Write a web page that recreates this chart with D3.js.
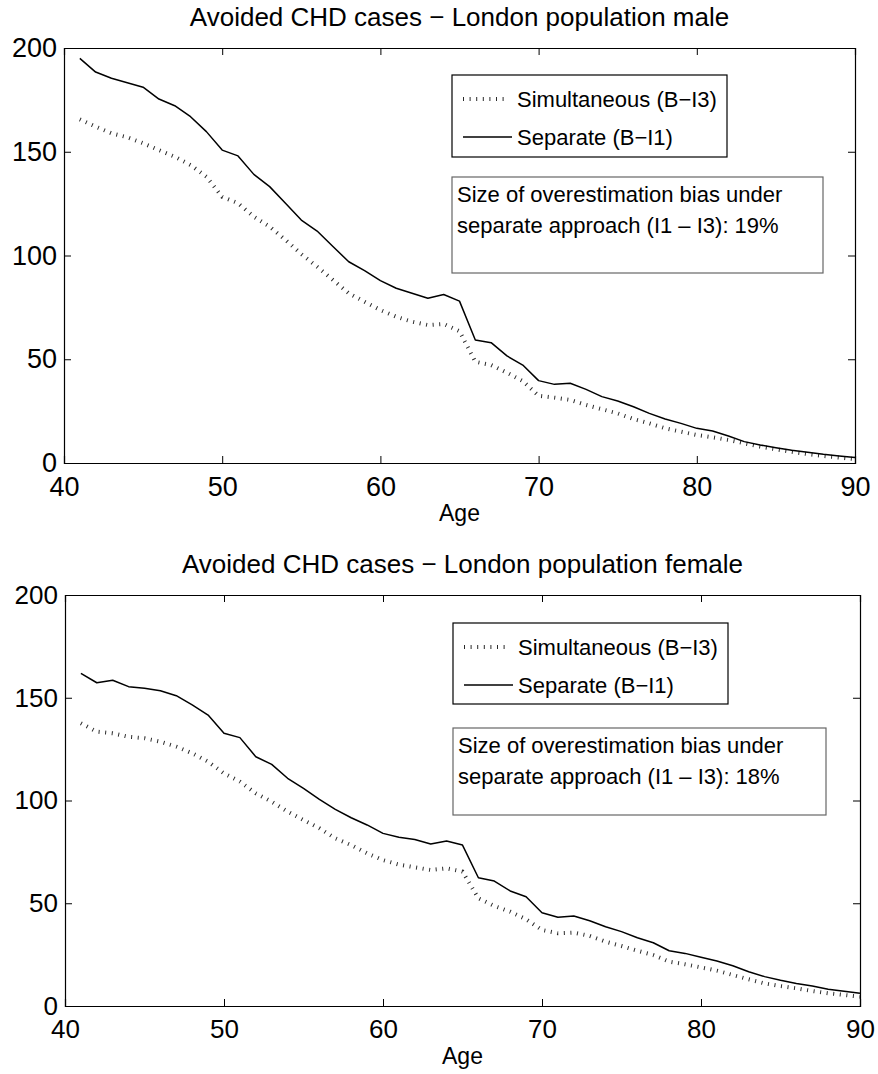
<!DOCTYPE html>
<html>
<head>
<meta charset="utf-8">
<script src="https://cdn.jsdelivr.net/npm/d3@7"></script>
<style>
  html, body { margin: 0; padding: 0; background: #fff; }
  svg { display: block; font-family: "Liberation Sans", Arial, Helvetica, sans-serif; }
</style>
</head>
<body>
<div id="chart"></div>
<script>
const ages = d3.range(41, 91);

const maleSeparate = [
  195.0, 188.4, 185.4, 183.3, 181.1, 175.4, 172.2, 166.9, 159.7, 150.8,
  148.0, 139.1, 133.2, 125.2, 117.1, 111.8, 104.3, 97.0, 92.7, 87.9,
  84.2, 81.8, 79.4, 81.2, 78.0, 59.3, 58.0, 51.6, 47.2, 39.7,
  37.9, 38.4, 35.5, 32.0, 29.9, 27.1, 23.9, 21.2, 19.1, 16.7,
  15.4, 13.0, 10.3, 8.7, 7.4, 6.1, 5.2, 4.2, 3.4, 2.7
];
const maleSimultaneous = [
  165.6, 162.1, 158.9, 157.0, 154.1, 150.8, 147.6, 143.6, 138.0, 128.3,
  125.2, 118.7, 113.9, 107.5, 100.7, 94.6, 88.2, 81.8, 77.7, 73.7,
  70.5, 68.1, 66.5, 67.0, 63.5, 48.8, 47.2, 43.5, 39.5, 32.4,
  31.5, 30.4, 28.0, 25.9, 23.9, 21.2, 19.1, 16.7, 15.1, 13.5,
  12.4, 11.1, 9.5, 7.9, 6.6, 5.4, 4.3, 3.4, 2.6, 1.9
];
const femaleSeparate = [
  161.9, 157.3, 158.5, 155.4, 154.6, 153.4, 151.0, 146.5, 141.6, 132.7,
  130.6, 121.3, 117.6, 110.8, 105.9, 100.6, 95.7, 91.6, 88.1, 84.0,
  82.1, 81.0, 78.8, 80.3, 78.3, 62.4, 60.8, 56.0, 53.2, 45.4,
  43.2, 43.8, 41.5, 38.6, 36.2, 33.2, 30.8, 26.9, 25.6, 23.7,
  21.9, 19.6, 16.7, 14.3, 12.5, 11.0, 9.7, 8.1, 7.2, 6.2
];
const femaleSimultaneous = [
  137.6, 133.5, 132.7, 131.0, 130.3, 128.6, 126.2, 123.0, 118.9, 113.2,
  109.2, 103.5, 99.4, 94.6, 90.5, 86.5, 81.6, 78.3, 74.3, 71.0,
  68.8, 67.5, 66.2, 67.0, 65.4, 52.4, 48.7, 45.9, 42.2, 37.0,
  35.4, 35.7, 34.1, 31.3, 29.2, 26.9, 24.8, 21.6, 20.3, 18.8,
  17.2, 15.1, 13.0, 11.0, 9.7, 8.6, 7.3, 6.2, 5.4, 4.5
];

const xTicks = [40, 50, 60, 70, 80, 90];
const yTicks = [0, 50, 100, 150, 200];
const legendLabels = ['Simultaneous (B\u2212I3)', 'Separate (B\u2212I1)'];

const panels = [
  {
    title: 'Avoided CHD cases \u2212 London population male',
    separate: maleSeparate, simultaneous: maleSimultaneous,
    note: ['Size of overestimation bias under', 'separate approach (I1 \u2013 I3): 19%'],
    box: { x0: 64, x1: 855, y0: 48, y1: 463 },
    legend: { x: 452, y: 75, w: 275, h: 82 },
    noteBox: { x: 452, y: 177, w: 371, h: 96 },
    tickSize: 27
  },
  {
    title: 'Avoided CHD cases \u2212 London population female',
    separate: femaleSeparate, simultaneous: femaleSimultaneous,
    note: ['Size of overestimation bias under', 'separate approach (I1 \u2013 I3): 18%'],
    box: { x0: 65, x1: 860, y0: 595, y1: 1006 },
    legend: { x: 453, y: 623, w: 275, h: 81 },
    noteBox: { x: 453, y: 728, w: 373, h: 87 },
    tickSize: 26
  }
];

const W = 878, H = 1074;
const DOTS = { width: 4, dash: '1 5.6', color: '#2a2a2a' };

const svg = d3.select('#chart').append('svg')
  .attr('width', W)
  .attr('height', H);

panels.forEach(drawPanel);

function drawPanel(p) {
  const { x0, x1, y0, y1 } = p.box;
  const x = d3.scaleLinear().domain([40, 90]).range([x0, x1]);
  const y = d3.scaleLinear().domain([0, 200]).range([y1, y0]);
  const g = svg.append('g');

  // ── Lines ─────────────────────────────────────────────────────────────
  const line = d3.line().x((d, i) => x(ages[i])).y(d => y(d));

  g.append('path')
    .attr('d', line(p.simultaneous))
    .attr('fill', 'none')
    .attr('stroke', DOTS.color)
    .attr('stroke-width', DOTS.width)
    .attr('stroke-dasharray', DOTS.dash);

  g.append('path')
    .attr('d', line(p.separate))
    .attr('fill', 'none')
    .attr('stroke', '#000')
    .attr('stroke-width', 1.5)
    .attr('stroke-linejoin', 'round');

  // ── Axes box, inward ticks on all four sides ──────────────────────────
  const TK = 7;
  const fmt = d3.format('d');

  g.append('g')
    .attr('transform', `translate(0,${y1})`)
    .call(d3.axisBottom(x).tickValues(xTicks).tickSize(-TK).tickPadding(14).tickFormat(fmt))
    .call(a => a.selectAll('text').attr('font-size', p.tickSize).attr('fill', '#000'));

  g.append('g')
    .attr('transform', `translate(0,${y0})`)
    .call(d3.axisTop(x).tickValues(xTicks).tickSize(-TK).tickFormat(''));

  g.append('g')
    .attr('transform', `translate(${x0},0)`)
    .call(d3.axisLeft(y).tickValues(yTicks).tickSize(-TK).tickPadding(7).tickFormat(fmt))
    .call(a => a.selectAll('text').attr('font-size', p.tickSize).attr('fill', '#000'));

  g.append('g')
    .attr('transform', `translate(${x1},0)`)
    .call(d3.axisRight(y).tickValues(yTicks).tickSize(-TK).tickFormat(''));

  g.selectAll('.domain').attr('stroke', '#000').attr('stroke-width', 1.2);
  g.selectAll('.tick line').attr('stroke', '#000');

  // ── Title and x label ─────────────────────────────────────────────────
  const cx = (x0 + x1) / 2;
  g.append('text')
    .attr('x', cx).attr('y', y0 - 22)
    .attr('text-anchor', 'middle')
    .attr('font-size', 26)
    .text(p.title);

  g.append('text')
    .attr('x', cx).attr('y', y1 + 58)
    .attr('text-anchor', 'middle')
    .attr('font-size', 23)
    .text('Age');

  // ── Legend ────────────────────────────────────────────────────────────
  const L = p.legend;
  g.append('rect')
    .attr('x', L.x).attr('y', L.y).attr('width', L.w).attr('height', L.h)
    .attr('fill', '#fff').attr('stroke', '#000').attr('stroke-width', 1.2);

  const rowY = [L.y + 24, L.y + 62];
  g.append('line')
    .attr('x1', L.x + 11).attr('x2', L.x + 56)
    .attr('y1', rowY[0]).attr('y2', rowY[0])
    .attr('stroke', DOTS.color)
    .attr('stroke-width', DOTS.width)
    .attr('stroke-dasharray', DOTS.dash);
  g.append('line')
    .attr('x1', L.x + 11).attr('x2', L.x + 60)
    .attr('y1', rowY[1]).attr('y2', rowY[1])
    .attr('stroke', '#000')
    .attr('stroke-width', 1.5);

  legendLabels.forEach((t, i) => {
    g.append('text')
      .attr('x', L.x + 65).attr('y', rowY[i] + 8)
      .attr('font-size', 22)
      .text(t);
  });

  // ── Note box ──────────────────────────────────────────────────────────
  const N = p.noteBox;
  g.append('rect')
    .attr('x', N.x).attr('y', N.y).attr('width', N.w).attr('height', N.h)
    .attr('fill', '#fff').attr('stroke', '#666').attr('stroke-width', 1.2);

  p.note.forEach((t, i) => {
    g.append('text')
      .attr('x', N.x + 5).attr('y', N.y + 25 + i * 31)
      .attr('font-size', 22)
      .text(t);
  });
}
</script>
</body>
</html>
